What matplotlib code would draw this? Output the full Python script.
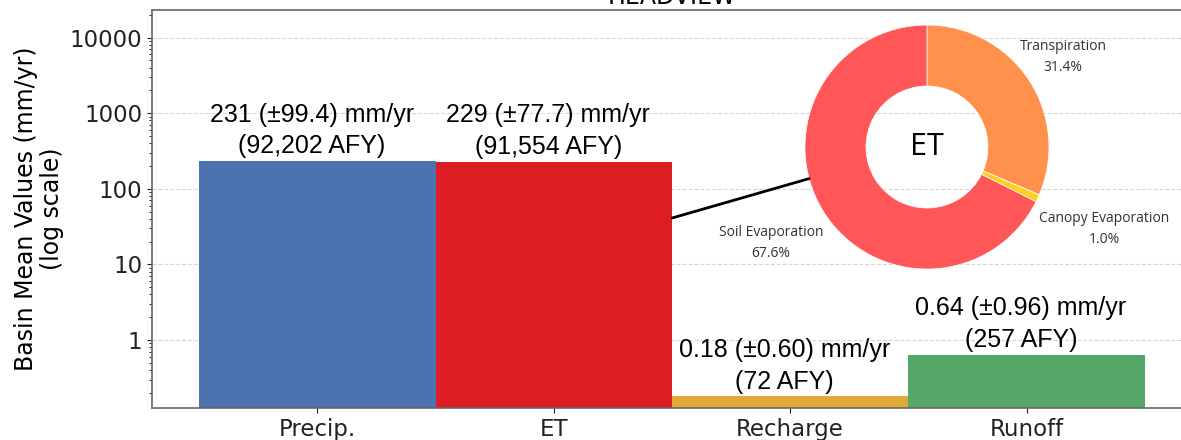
import numpy as np
import matplotlib.pyplot as plt
from matplotlib.patches import ConnectionPatch


# data

categories = ["Precip.", "ET", "Recharge", "Runoff"]
means = [231, 229, 0.18, 0.64]
stds = [99.4, 77.7, 0.60, 0.96]
afy = [92202, 91554, 72, 257]
bar_colors = ["#4C72B0", "#DC1E22", "#E1A935", "#55A868"]

et_parts = ["Transpiration", "Canopy Evaporation", "Soil Evaporation"]
et_share = [31.4, 1.0, 67.6]
et_colors = ["#FF914D", "#FFD21F", "#FF5757"]


# main bar chart

fig = plt.figure(figsize=(11.81, 4.4), dpi=100)
ax = fig.add_axes([0.1287, 0.0727, 0.8806, 0.9045])

x = np.arange(len(categories))
ax.bar(x, means, width=1.0, color=bar_colors, zorder=2)

ax.set_yscale("log")
ax.set_ylim(min(means) * 0.7, max(means) * 100)
ax.set_xlim(-0.7, 3.7)
ax.set_yticks([1, 10, 100, 1000, 10000])
ax.set_yticklabels(["1", "10", "100", "1000", "10000"])
ax.set_xticks(x)
ax.set_xticklabels(categories)
ax.tick_params(axis="both", labelsize=16.5, colors="#222222")
ax.grid(axis="y", which="major", linestyle="--", color="#cccccc",
        alpha=0.8, linewidth=0.8, zorder=0)

for s in ax.spines.values():
    s.set_color("#666666")
    s.set_linewidth(1.2)
ax.spines["right"].set_visible(False)

ax.set_ylabel("Basin Mean Values (mm/yr)\n(log scale)", fontsize=17,
              linespacing=1.1)
ax.set_title("HEADVIEW", fontsize=17, pad=4)

for xi, m, sd, a in zip(x, means, stds, afy):
    if m >= 1:
        txt = f"{m:.0f} (±{sd:.1f}) mm/yr\n({a:,} AFY)"
    else:
        txt = f"{m:.2f} (±{sd:.2f}) mm/yr\n({a:,} AFY)"
    ax.annotate(txt, (xi, m), xytext=(-4, 2), textcoords="offset points",
                ha="center", va="bottom", fontsize=18,
                family="Liberation Sans", linespacing=1.4)


# ET breakdown donut

pax = fig.add_axes([0.6816, 0.3886, 0.2066, 0.5545])
wedges, _ = pax.pie(et_share, colors=et_colors, startangle=90,
                    counterclock=False,
                    wedgeprops=dict(width=0.5, edgecolor="white",
                                    linewidth=0.5))
pax.set_xlim(-1, 1)
pax.set_ylim(-1, 1)
pax.set_aspect("equal")
pax.text(0, 0, "ET", ha="center", va="center", fontsize=22,
         family="Open Sans")

label_dist = [1.34, 1.6, 1.5]
for w, name, pct, d in zip(wedges, et_parts, et_share, label_dist):
    ang = np.deg2rad((w.theta1 + w.theta2) / 2)
    pax.text(d * np.cos(ang), d * np.sin(ang), f"{name}\n{pct:.1f}%",
             ha="center", va="center", fontsize=10, color="#333333",
             family="Open Sans", linespacing=1.5)

# line from the ET bar to the donut
ang = np.deg2rad(195)
con = ConnectionPatch(xyA=(1.5, 41), coordsA=ax.transData,
                      xyB=(np.cos(ang), np.sin(ang)), coordsB=pax.transData,
                      color="black", linewidth=2)
fig.add_artist(con)

plt.savefig("out.png", dpi=100)
